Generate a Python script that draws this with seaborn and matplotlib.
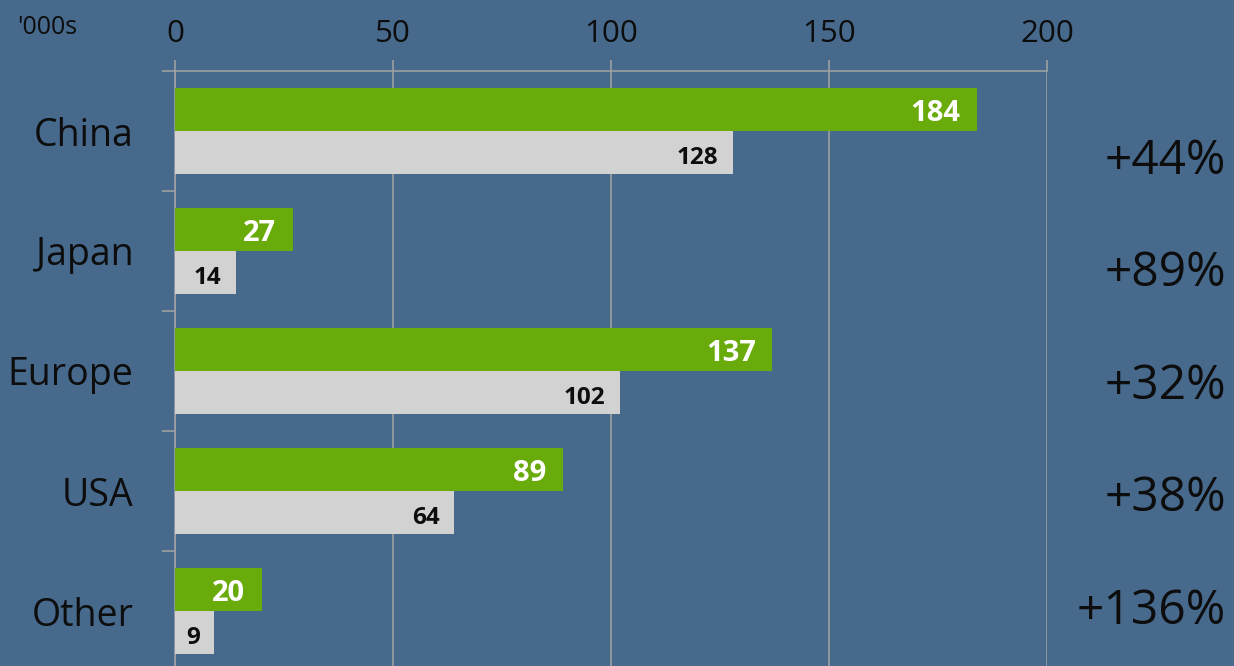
import matplotlib
matplotlib.use("Agg")
import matplotlib.pyplot as plt
import matplotlib.transforms as mtransforms
import seaborn as sns
import pandas as pd

regions = ["China", "Japan", "Europe", "USA", "Other"]
current = [184, 27, 137, 89, 20]
previous = [128, 14, 102, 64, 9]
growth = ["+44%", "+89%", "+32%", "+38%", "+136%"]
x_ticks = [0, 50, 100, 150, 200]
unit_label = "'000s"

BG = "#46698c"
GREEN = "#6aab0c"
GREY = "#d2d2d2"
LINE = "#a3a3a3"
TXT = "#0d0d0d"

sns.set_theme(style="white")
plt.rcParams["font.family"] = ["Open Sans", "DejaVu Sans"]

df = pd.DataFrame({
    "region": regions * 2,
    "value": current + previous,
    "series": ["current"] * len(regions) + ["previous"] * len(regions),
})

W, H = 1234, 666
fig = plt.figure(figsize=(W / 100, H / 100), dpi=100)
fig.patch.set_facecolor(BG)
ax = fig.add_axes([175 / W, 0, (1047 - 175) / W, 1 - 71 / H])
ax.set_facecolor(BG)

sns.barplot(data=df, y="region", x="value", hue="series", orient="h",
            palette={"current": GREEN, "previous": GREY}, width=0.72,
            saturation=1, legend=False, ax=ax, zorder=3, linewidth=0)

ax.set_xlim(0, 200)
ax.set_ylim(-0.5 + (H - 71) / 120, -0.5)
ax.set_xlabel("")
ax.set_ylabel("")

# x axis on top
ax.xaxis.tick_top()
ax.set_xticks(x_ticks)
ax.set_xticklabels([str(t) for t in x_ticks], fontsize=22.5, color=TXT)
ax.tick_params(axis="x", which="major", length=8, width=1.1, color=LINE, pad=8)
ax.grid(axis="x", color=LINE, linewidth=1.1, zorder=0)
ax.set_axisbelow(True)

# y axis
ax.set_yticks(range(len(regions)))
ax.set_yticklabels(regions, fontsize=27, color=TXT)
ax.tick_params(axis="y", which="major", length=0, pad=30)
ax.set_yticks([i - 0.5 for i in range(len(regions))], minor=True)
ax.tick_params(axis="y", which="minor", length=9.5, width=1.1, color=LINE, left=True)

for s in ["right", "bottom"]:
    ax.spines[s].set_visible(False)
for s in ["left", "top"]:
    ax.spines[s].set_color(LINE)
    ax.spines[s].set_linewidth(1.1)

# value labels
c_green, c_grey = ax.containers[0], ax.containers[1]
lab_g = ax.bar_label(c_green, labels=[str(v) for v in current], padding=-12,
                     fontsize=21, fontweight="bold", color="white")
lab_p = ax.bar_label(c_grey, labels=[str(v) for v in previous], padding=-10.5,
                     fontsize=17.5, fontweight="bold", color=TXT)
for t in lab_g:
    t.set_ha("right")
    x0, y0 = t.xyann
    t.xyann = (x0, y0 - 3.2)
for t in lab_p:
    t.set_ha("right")
    x0, y0 = t.xyann
    t.xyann = (x0, y0 - 3.6)

# growth labels on the right
trans = mtransforms.blended_transform_factory(fig.transFigure, ax.transData)
for i, g in enumerate(growth):
    ax.text(1226 / W, 0.25 + i * 0.9375, g, transform=trans, ha="right", va="center",
            fontsize=34.5, color=TXT, clip_on=False)

fig.text(17 / W, 1 - 27 / H, unit_label, fontsize=18, color=TXT, ha="left", va="center")

fig.savefig("out.png", dpi=100, facecolor=BG)
